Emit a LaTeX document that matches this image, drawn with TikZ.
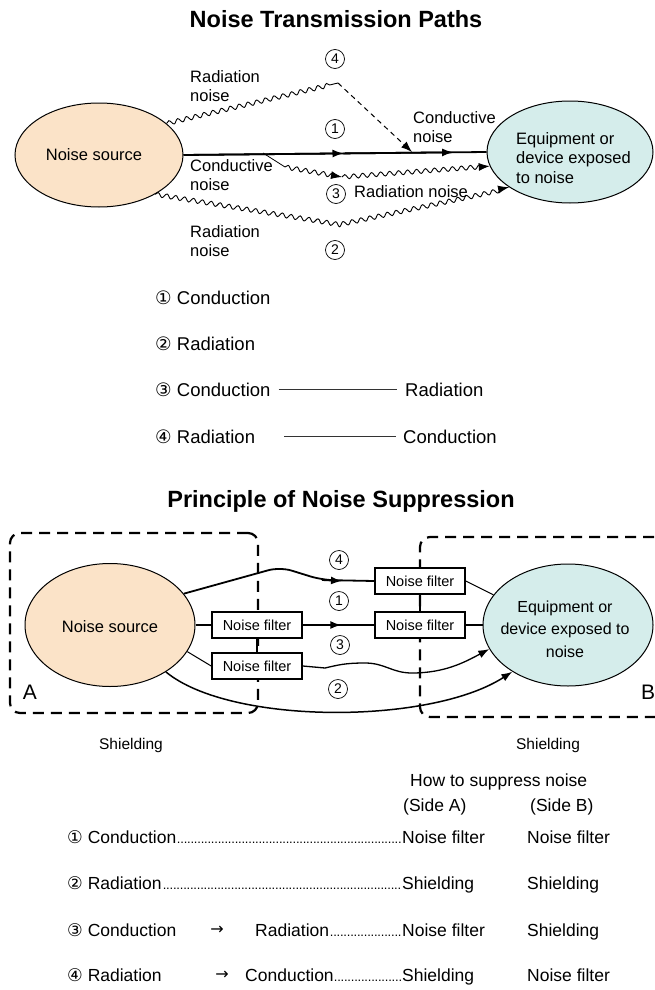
\documentclass[tikz,border=0pt]{standalone}
\usepackage{fontspec}
\setmainfont{Liberation Sans}
\newfontfamily\dejavu{DejaVu Sans}
\usetikzlibrary{shapes.geometric,decorations.pathmorphing,arrows.meta,calc}
\definecolor{srcfill}{HTML}{FBE3C8}
\definecolor{eqfill}{HTML}{D5EDEB}
\newcommand\fsz[1]{\fontsize{#1}{#1}\selectfont}
\newcommand\cnd[1]{{\dejavu #1}}
\newcommand\dotlead{\cleaders\hbox to 3.4pt{\hss\fontsize{13}{13}\selectfont.\hss}\hfill}
\begin{document}
\begin{tikzpicture}[x=1pt,y=-1pt,
  lbl/.style={font=\fontsize{16.5}{19.5}\selectfont, inner sep=0, align=left},
  ttl/.style={font=\bfseries\fsz{23.5}, inner sep=0},
  lgd/.style={font=\fsz{18.5}, inner sep=0, anchor=base west},
  tbl/.style={font=\fsz{17.5}, inner sep=0, anchor=base west},
  cnum/.style={draw, circle, line width=0.7, minimum size=19, inner sep=0, font=\fsz{14}},
  wavy/.style={decorate, decoration={snake, segment length=9pt, amplitude=2.2pt, post length=7pt}, line width=0.9},
  arrowtip/.style={-{Latex[length=11pt,width=8pt]}},
  src/.style={ellipse, draw, line width=1, fill=srcfill, inner sep=0},
  eqp/.style={ellipse, draw, line width=1, fill=eqfill, inner sep=0},
  shield/.style={draw, rectangle, line width=2.2, dash pattern=on 11pt off 7pt, rounded corners=10, inner sep=0},
  filt/.style={draw, fill=white, line width=1.6, minimum width=90, minimum height=26, inner sep=0, font=\fsz{14.5}}
]
\useasboundingbox (0,0) rectangle (655,990);

% ---------------- Top diagram ----------------
\node[ttl] (title1) at (336,19) {Noise Transmission Paths};

\node[src, minimum width=168, minimum height=104] (src1) at (99,155) {};
\node[lbl] (src1t) at (94,155) {Noise source};
\node[eqp, minimum width=166, minimum height=102] (eq1) at (570,152) {};
\node[lbl, anchor=west] (eq1t) at (516,158) {Equipment or\\device exposed\\to noise};

% path 1
\coordinate (t1m1) at ($(src1.east)!0.528!(eq1.west)$);
\coordinate (t1m2) at ($(src1.east)!0.89!(eq1.west)$);
\draw[line width=1.8] (src1.east) -- (eq1.west);
\draw[line width=1.8, arrowtip] (src1.east) -- (t1m1);
\draw[line width=1.8, arrowtip] (t1m1) -- (t1m2);

% path 4
\coordinate (t4peak) at (338,83);
\coordinate (t4hit) at (412,152);
\draw[wavy] (src1.25) -- (t4peak);
\draw[line width=1, dash pattern=on 5pt off 4pt, arrowtip] (t4peak) -- (t4hit);

% path 3
\coordinate (t3a) at (263,153);
\coordinate (t3b) at (285,167);
\coordinate (t3m) at (342,177);
\draw[line width=0.8] (t3a) -- (t3b);
\draw[wavy, arrowtip] (t3b) -- (t3m);
\draw[wavy, arrowtip] (t3m) -- (eq1.190);

% path 2
\coordinate (t2low) at (336,224);
\draw[wavy, arrowtip] (src1.-35) -- (t2low) -- (eq1.210);

% labels
\node[cnum] (c4t) at (335,59) {4};
\node[cnum] (c1t) at (335,129) {1};
\node[cnum] (c3t) at (336,194) {3};
\node[cnum] (c2t) at (335,250) {2};
\node[lbl, anchor=west] (rn1) at (190,86) {Radiation\\noise};
\node[lbl, anchor=west] (cn1) at (190,175) {Conductive\\noise};
\node[lbl, anchor=west] (rn2) at (190,241) {Radiation\\noise};
\node[lbl, anchor=west] (rn3) at (354,192) {Radiation noise};
\node[lbl, anchor=west] (cn2) at (413,127) {Conductive\\noise};

% legend
\node[lgd] (lg1) at (155,304) {\cnd{①} Conduction};
\node[lgd] (lg2) at (155,350) {\cnd{②} Radiation};
\node[lgd] (lg3a) at (155,396) {\cnd{③} Conduction};
\node[lgd] (lg3b) at (405,396) {Radiation};
\node[lgd] (lg4a) at (155,443) {\cnd{④} Radiation};
\node[lgd] (lg4b) at (403,443) {Conduction};
\coordinate (l3s) at ([xshift=8]lg3a.east);
\coordinate (l4s) at ([xshift=-119]lg4b.west);
\draw[line width=0.9, black!80] (l3s |- lg3b.west) -- ([xshift=-8]lg3b.west);
\draw[line width=0.9, black!80] (l4s) -- ([xshift=-7]lg4b.west);

% ---------------- Bottom diagram ----------------
\node[ttl] (title2) at (341,501) {Principle of Noise Suppression};

\node[shield, minimum width=248, minimum height=180] (boxA) at (134,623) {};
\node[shield, minimum width=280, minimum height=180] (boxB) at (560,627) {};

\node[src, minimum width=170, minimum height=123] (src2) at (110,625) {};
\node[lbl] (src2t) at (110,627) {Noise source};
\node[eqp, minimum width=170, minimum height=122] (eq2) at (568,625) {};
\node[lbl, align=center, font=\fontsize{16}{22.5}\selectfont] (eq2t) at (565,629) {Equipment or\\device exposed to\\noise};

\node[filt] (lf1) at (257,625) {Noise filter};
\node[filt] (lf2) at (257,666) {Noise filter};
\node[filt] (rf4) at (420,581) {Noise filter};
\node[filt] (rf1) at (420,625) {Noise filter};
\draw[line width=1.6] (lf1.south) -- (lf2.north);
\draw[line width=1.6] (rf4.south) -- (rf1.north);

% path 1
\coordinate (b1arr) at ($(lf1.east)!0.54!(rf1.west)$);
\draw[line width=2] (src2.east) -- (lf1.west);
\draw[line width=2] (lf1.east) -- (rf1.west);
\draw[line width=2, arrowtip] (lf1.east) -- (b1arr);
\draw[line width=2] (rf1.east) -- (eq2.west);

% path 4
\coordinate (b4top) at (280,567);
\coordinate (b4bend) at (322,580);
\coordinate (b4arr) at (342,581);
\draw[line width=1.8, rounded corners=12] (src2.23) -- (b4top) -- (b4bend) -- (rf4.west);
\draw[line width=1.8, arrowtip] (b4bend) -- (b4arr);
\draw[line width=1] (rf4.east) -- (eq2.158);

% path 3
\coordinate (b3a) at (325,668);
\coordinate (b3b) at (365,663);
\coordinate (b3c) at (412,673);
\draw[line width=1] (src2.-19) -- (lf2.west);
\draw[line width=1.3, arrowtip] (lf2.east) -- (b3a) .. controls (338,665) and (345,663) .. (b3b)
  .. controls (385,663) and (392,673) .. (b3c) .. controls (445,673) and (465,662) .. (eq2.197);

% path 2
\draw[line width=1.5, arrowtip] (src2.-40) .. controls (230,725) and (430,725) .. (eq2.220);

\node[cnum] (c4b) at (339,560) {4};
\node[cnum] (c1b) at (339,601) {1};
\node[cnum] (c3b) at (340,645) {3};
\node[cnum] (c2b) at (338,689) {2};

\node[font=\fsz{21}, inner sep=0] (labA) at (30,692) {A};
\node[font=\fsz{21}, inner sep=0, anchor=west] (labB) at (641,692) {B};
\node[font=\fsz{15.5}, inner sep=0] (shA) at (131,745) {Shielding};
\node[font=\fsz{15.5}, inner sep=0] (shB) at (548,745) {Shielding};

% ---------------- Table ----------------
\node[tbl] (hdr) at (410,786) {How to suppress noise};
\node[tbl] (sideA) at (403,811) {(Side A)};
\node[tbl] (sideB) at (530,811) {(Side B)};

\node[tbl] (r1a) at (67,843) {\hbox to 335pt{\cnd{①} Conduction\dotlead}};
\node[tbl] (r1b) at (402,843) {Noise filter};
\node[tbl] (r1c) at (527,843) {Noise filter};

\node[tbl] (r2a) at (67,889) {\hbox to 335pt{\cnd{②} Radiation\dotlead}};
\node[tbl] (r2b) at (402,889) {Shielding};
\node[tbl] (r2c) at (527,889) {Shielding};

\node[tbl] (r3a) at (67,936) {\cnd{③} Conduction};
\node[font=\dejavu\fsz{16}, inner sep=0] (r3arr) at (217,930) {→};
\node[tbl] (r3m) at (255,936) {\hbox to 147pt{Radiation\dotlead}};
\node[tbl] (r3b) at (402,936) {Noise filter};
\node[tbl] (r3c) at (527,936) {Shielding};

\node[tbl] (r4a) at (67,981) {\cnd{④} Radiation};
\node[font=\dejavu\fsz{16}, inner sep=0] (r4arr) at (222,975) {→};
\node[tbl] (r4m) at (245,981) {\hbox to 157pt{Conduction\dotlead}};
\node[tbl] (r4b) at (402,981) {Shielding};
\node[tbl] (r4c) at (527,981) {Noise filter};
\end{tikzpicture}
\end{document}
